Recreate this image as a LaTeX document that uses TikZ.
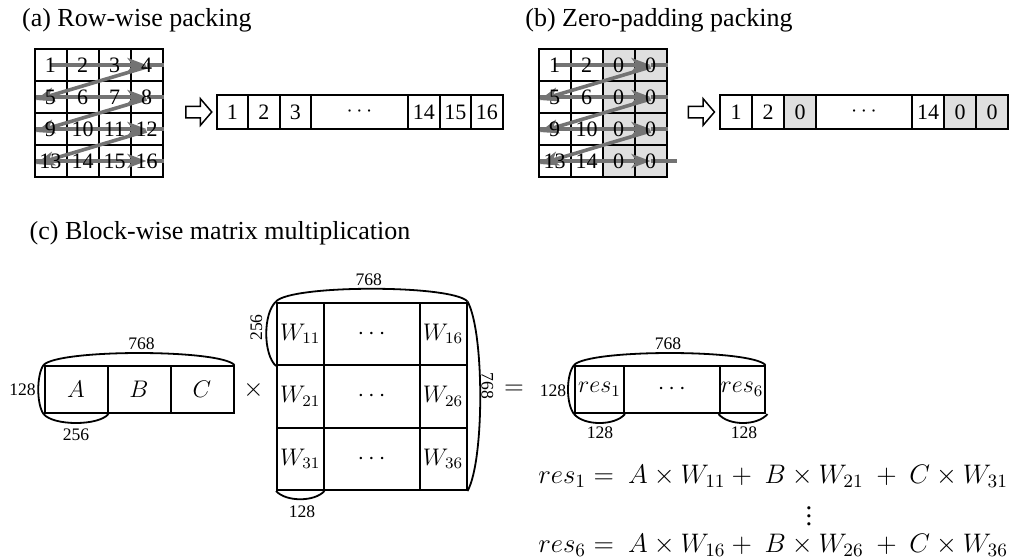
\RequirePackage{fix-cm}
\documentclass[tikz,border=0pt]{standalone}
\usepackage[no-math]{fontspec}
\setmainfont{Liberation Serif}
\usetikzlibrary{arrows.meta,shapes.arrows}

\tikzset{
  cell/.style={draw, line width=1pt, inner sep=0pt, minimum width=16pt, minimum height=16pt},
  zero/.style={fill=gray!25},
  num/.style={font=\fontsize{11}{13}\selectfont, inner sep=0pt},
  vcell/.style={draw, line width=1pt, inner sep=0pt, minimum height=17pt, font=\fontsize{11}{13}\selectfont},
  title/.style={font=\fontsize{13}{15}\selectfont, anchor=base west, inner sep=0pt},
  zz/.style={line width=1.8pt, draw=black!55},
  zzarrow/.style={zz, -{Stealth[length=9.5pt,width=7pt,inset=2.5pt]}},
  dim/.style={font=\fontsize{8.8}{10}\selectfont, inner sep=0pt},
  brace/.style={line width=0.9pt},
  blk/.style={draw, line width=1pt, inner sep=0pt, font=\fontsize{12}{14}\selectfont},
  hollow/.style={draw, line width=0.75pt, fill=white, single arrow, inner xsep=0pt, inner ysep=2.5pt,
    minimum height=13pt, single arrow head extend=3.75pt, single arrow tip angle=99},
  op/.style={font=\fontsize{13}{15}\selectfont, inner sep=0pt},
  eq/.style={font=\fontsize{13.4}{16}\selectfont, inner sep=0pt},
}

\begin{document}
\begin{tikzpicture}[x=0.5pt, y=-0.5pt]
\useasboundingbox (0,0) rectangle (1018,559);

% ---------- titles
\node[title] (ta) at (21.7,26) {(a) Row-wise packing};
\node[title] (tb) at (525,26) {(b) Zero-padding packing};
\node[title] (tc) at (29.3,239) {(c) Block-wise matrix multiplication};

% ---------- (a) grid
\foreach \r in {1,...,4}{
  \foreach \c in {1,...,4}{
    \node[cell] (a\r\c) at ({50.5+32*(\c-1)},{65+32*(\r-1)}) {};
  }
}
\draw[zzarrow] (a11.center) -- (a14.center);
\draw[zz] (a14.center) -- (a14.east);
\foreach \r in {2,3,4}{
  \draw[zzarrow] ([xshift=1pt]a\r1.west) -- (a\r4.center);
  \draw[zz] (a\r4.center) -- (a\r4.east);
}
\foreach \r/\s in {1/2,2/3,3/4}{
  \draw[zzarrow] ([yshift=-1pt]a\r4.center) -- ([shift={(2,3)}]a\s1.west);
}
\foreach \r in {1,...,4}{
  \foreach \c in {1,...,4}{
    \pgfmathtruncatemacro{\n}{4*(\r-1)+\c}
    \node[num] (na\r\c) at (a\r\c) {\n};
  }
}

% ---------- (a) packed vector
\node[hollow] (pa) at (196.3,112) {};
\node[vcell, minimum width=15.75pt] (ra1) at (232.25,112) {1};
\node[vcell, minimum width=15.75pt] (ra2) at (263.75,112) {2};
\node[vcell, minimum width=15.75pt] (ra3) at (295.25,112) {3};
\node[vcell, minimum width=48.5pt] (ra4) at (359.5,112) {$\cdots$};
\node[vcell, minimum width=15.75pt] (ra5) at (423.75,112) {14};
\node[vcell, minimum width=15.75pt] (ra6) at (455.25,112) {15};
\node[vcell, minimum width=15.75pt] (ra7) at (486.75,112) {16};

% ---------- (b) grid
\foreach \r in {1,...,4}{
  \foreach \c in {1,...,4}{
    \ifnum\c>2
      \node[cell, zero] (b\r\c) at ({554.5+32*(\c-1)},{65+32*(\r-1)}) {};
    \else
      \node[cell] (b\r\c) at ({554.5+32*(\c-1)},{65+32*(\r-1)}) {};
    \fi
  }
}
\draw[zzarrow] (b11.center) -- (b14.center);
\draw[zz] (b14.center) -- (b14.east);
\foreach \r in {2,3}{
  \draw[zzarrow] ([xshift=1pt]b\r1.west) -- (b\r4.center);
  \draw[zz] (b\r4.center) -- (b\r4.east);
}
\draw[zzarrow] ([xshift=1pt]b41.west) -- (b44.center);
\draw[zz] (b44.center) -- ([xshift=4.5pt]b44.east);
\foreach \r/\s in {1/2,2/3,3/4}{
  \draw[zzarrow] ([yshift=-1pt]b\r4.center) -- ([shift={(2,3)}]b\s1.west);
}
\foreach \r/\u/\v in {1/1/2,2/5/6,3/9/10,4/13/14}{
  \node[num] (nb\r1) at (b\r1) {\u};
  \node[num] (nb\r2) at (b\r2) {\v};
  \node[num] (nb\r3) at (b\r3) {0};
  \node[num] (nb\r4) at (b\r4) {0};
}

% ---------- (b) packed vector
\node[hollow] (pb) at (699,112) {};
\node[vcell, minimum width=16pt] (rb1) at (736,112) {1};
\node[vcell, minimum width=16pt] (rb2) at (768,112) {2};
\node[vcell, minimum width=16pt, zero] (rb3) at (800,112) {0};
\node[vcell, minimum width=48pt] (rb4) at (864,112) {$\cdots$};
\node[vcell, minimum width=16pt] (rb5) at (928,112) {14};
\node[vcell, minimum width=16pt, zero] (rb6) at (960,112) {0};
\node[vcell, minimum width=16pt, zero] (rb7) at (992,112) {0};

% ---------- (c) matrix A
\node[blk, minimum width=31.5pt, minimum height=23.5pt] (mA) at (76,389.5) {$A$};
\node[blk, minimum width=31.5pt, minimum height=23.5pt] (mB) at (139,389.5) {$B$};
\node[blk, minimum width=31.5pt, minimum height=23.5pt] (mC) at (202,389.5) {$C$};
\draw[brace] (mA.north west) .. controls +(15,-16) and +(-15,-16) .. (mC.north east);
\draw[brace] (mA.north west) .. controls +(-7,10) and +(-7,-10) .. (mA.south west);
\draw[brace] (mA.south west) .. controls +(10,12) and +(-10,12) .. (mA.south east);
\node[dim] (dA1) at (141.5,344) {768};
\node[dim] (dA2) at (22.5,390) {128};
\node[dim] (dA3) at (76,434.5) {256};

\node[op] (times) at (253.5,389.5) {$\times$};

% ---------- (c) matrix W
\foreach \r/\y in {1/333.75,2/396.25,3/458.75}{
  \node[blk, minimum width=23.25pt, minimum height=31.25pt] (w\r1) at (300.25,\y) {$W_{\r1}$};
  \node[blk, minimum width=48pt, minimum height=31.25pt] (w\r m) at (371.5,\y) {$\cdots$};
  \node[blk, minimum width=23.5pt, minimum height=31.25pt] (w\r6) at (443,\y) {$W_{\r6}$};
}
\draw[brace] (w11.north west) .. controls +(15,-17) and +(-15,-17) .. (w16.north east);
\draw[brace] (w11.north west) .. controls +(-13,12) and +(-13,-12) .. (w11.south west);
\draw[brace] (w16.north east) .. controls +(17,30) and +(17,-30) .. (w36.south east);
\draw[brace] (w31.south west) .. controls +(10,11) and +(-10,11) .. (w31.south east);
\node[dim] (dW1) at (368.8,280) {768};
\node[dim, rotate=90] (dW2) at (256.5,327.5) {256};
\node[dim, rotate=-90] (dW3) at (487.5,386) {768};
\node[dim] (dW4) at (302,511.5) {128};

\node[op] (equal) at (514,389.5) {$=$};

% ---------- (c) result
\node[blk, minimum width=24.5pt, minimum height=23.5pt] (r1) at (599.5,389.5) {$res_1$};
\node[blk, minimum width=47.75pt, minimum height=23.5pt] (rm) at (671.75,389.5) {$\cdots$};
\node[blk, minimum width=22.5pt, minimum height=23.5pt] (r6) at (742,389.5) {$res_6$};
\draw[brace] (r1.north west) .. controls +(15,-16) and +(-15,-16) .. (r6.north east);
\draw[brace] (r1.north west) .. controls +(-8,10) and +(-8,-10) .. (r1.south west);
\draw[brace] (r1.south west) .. controls +(10,12) and +(-10,12) .. (r1.south east);
\draw[brace] (r6.south west) .. controls +(10,12) and +(-10,12) .. ([xshift=1pt]r6.south east);
\node[dim] (dR1) at (668,344) {768};
\node[dim] (dR2) at (553,391) {128};
\node[dim] (dR3) at (600,432.5) {128};
\node[dim] (dR4) at (744,432.5) {128};

% ---------- equations
\node[eq, anchor=base west] (eq1) at (538,483) {$res_1 = \ A \times W_{11} + \ B \times W_{21} \ + \ C \times W_{31}$};
\node[eq] (vd) at (809,510.5) {$\vdots$};
\node[eq, anchor=base west] (eq6) at (538,552) {$res_6 = \ A \times W_{16} + \ B \times W_{26} \ + \ C \times W_{36}$};
\end{tikzpicture}
\end{document}
